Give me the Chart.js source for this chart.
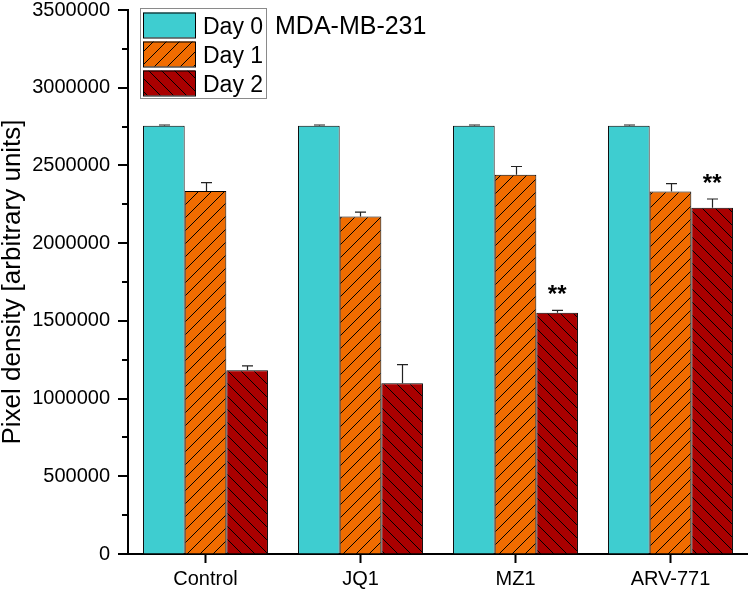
<!DOCTYPE html>
<html>
<head>
<meta charset="utf-8">
<script src="https://cdn.jsdelivr.net/npm/chart.js@4.4.1/dist/chart.umd.min.js"></script>
<style>
  html, body { margin: 0; padding: 0; background: #fff; }
  #wrap { width: 748px; height: 589px; }
</style>
</head>
<body>
<div id="wrap"><canvas id="chart" width="748" height="589"></canvas></div>
<script>
const categories = ["Control", "JQ1", "MZ1", "ARV-771"];
const seriesNames = ["Day 0", "Day 1", "Day 2"];

const day0 = [2755000, 2755000, 2755000, 2755000];
const day0Err = [5000, 5000, 5000, 5000];
const day1 = [2335000, 2172000, 2440000, 2333000];
const day1Err = [55000, 27000, 53000, 50000];
const day2 = [1182000, 1098000, 1552000, 2228000];
const day2Err = [28000, 120000, 15000, 56000];
const day2Stars = ["", "", "**", "**"];

const yMax = 3500000;
const yMajorStep = 500000;
const yMinorStep = 250000;

const FONT = "'Liberation Sans', Arial, sans-serif";
const cyan = "#3ECDD0";
const orange = "#F06C00";
const darkRed = "#AA0000";

// hatch patterns: dir 1 = "/", dir -1 = "\"
function makeHatch(bg, dir) {
    const s = 13;
    const c = document.createElement("canvas");
    c.width = s; c.height = s;
    const g = c.getContext("2d");
    g.fillStyle = bg;
    g.fillRect(0, 0, s, s);
    g.strokeStyle = "#000";
    g.lineWidth = 1;
    g.beginPath();
    if (dir > 0) {
        g.moveTo(-1, s + 1); g.lineTo(s + 1, -1);
        g.moveTo(-1, 1); g.lineTo(1, -1);
        g.moveTo(s - 1, s + 1); g.lineTo(s + 1, s - 1);
    } else {
        g.moveTo(-1, -1); g.lineTo(s + 1, s + 1);
        g.moveTo(s - 1, -1); g.lineTo(s + 1, 1);
        g.moveTo(-1, s - 1); g.lineTo(1, s + 1);
    }
    g.stroke();
    return g.createPattern(c, "repeat");
}

const fills = [cyan, makeHatch(orange, 1), makeHatch(darkRed, -1)];
const errs = [day0Err, day1Err, day2Err];
const stars = [null, null, day2Stars];

const errorBars = {
    id: "errorBars",
    afterDatasetsDraw(chart) {
        const ctx = chart.ctx;
        const y = chart.scales.y;
        ctx.save();
        ctx.strokeStyle = "#222";
        ctx.lineWidth = 1.2;
        chart.data.datasets.forEach((ds, i) => {
            const meta = chart.getDatasetMeta(i);
            meta.data.forEach((bar, j) => {
                const top = y.getPixelForValue(ds.data[j]);
                const hi = y.getPixelForValue(ds.data[j] + errs[i][j]);
                const x = Math.round(bar.x) + 0.5;
                ctx.beginPath();
                ctx.moveTo(x, top);
                ctx.lineTo(x, hi);
                ctx.moveTo(x - 5.5, hi);
                ctx.lineTo(x + 5.5, hi);
                ctx.stroke();
                if (stars[i] && stars[i][j]) {
                    ctx.fillStyle = "#000";
                    ctx.font = "bold 24px " + FONT;
                    ctx.textAlign = "center";
                    ctx.textBaseline = "alphabetic";
                    ctx.fillText(stars[i][j], bar.x, hi - 8);
                }
            });
        });
        ctx.restore();
    }
};

const axisDecor = {
    id: "axisDecor",
    afterDraw(chart) {
        const ctx = chart.ctx;
        const y = chart.scales.y;
        const left = chart.chartArea.left;
        ctx.save();
        ctx.strokeStyle = "#000";
        ctx.lineWidth = 2;
        y.ticks.forEach(t => {
            const py = Math.round(y.getPixelForValue(t.value));
            const len = t.value % yMajorStep === 0 ? 10 : 6;
            ctx.beginPath();
            ctx.moveTo(left - len, py);
            ctx.lineTo(left, py);
            ctx.stroke();
        });

        // legend box
        ctx.lineWidth = 1;
        ctx.strokeStyle = "#8a8a8a";
        ctx.strokeRect(140.5, 8.5, 126, 90);
        seriesNames.forEach((name, i) => {
            const sy = 12.5 + i * 29;
            ctx.fillStyle = fills[i];
            ctx.fillRect(143, sy, 52, 25);
            ctx.strokeStyle = "#000";
            ctx.strokeRect(143.5, sy + 0.5, 52, 25);
            ctx.fillStyle = "#000";
            ctx.font = "23px " + FONT;
            ctx.textAlign = "left";
            ctx.textBaseline = "alphabetic";
            ctx.fillText(name, 203, sy + 21);
        });
        ctx.font = "25px " + FONT;
        ctx.fillText("MDA-MB-231", 275, 34);
        ctx.restore();
    }
};

new Chart(document.getElementById("chart"), {
    type: "bar",
    data: {
        labels: categories,
        datasets: seriesNames.map((name, i) => ({
            label: name,
            data: [day0, day1, day2][i],
            backgroundColor: fills[i],
            borderColor: "#000",
            borderWidth: 1,
            categoryPercentage: 0.806,
            barPercentage: 1.0
        }))
    },
    options: {
        responsive: false,
        animation: false,
        layout: { padding: { left: 0, right: 0, top: 10, bottom: 0 } },
        plugins: {
            legend: { display: false },
            tooltip: { enabled: false }
        },
        scales: {
            x: {
                grid: {
                    display: true,
                    drawOnChartArea: false,
                    offset: false,
                    tickLength: 9,
                    tickWidth: 2,
                    tickColor: "#000"
                },
                border: { color: "#000", width: 2 },
                ticks: {
                    color: "#000",
                    padding: 4,
                    font: { family: FONT, size: 20 }
                },
                afterFit(scale) {
                    scale.height = 35;
                    scale.paddingLeft = 0;
                    scale.paddingRight = 0;
                }
            },
            y: {
                min: 0,
                max: yMax,
                grid: {
                    display: true,
                    drawOnChartArea: false,
                    tickLength: 10,
                    tickColor: "transparent"
                },
                border: { color: "#000", width: 2 },
                ticks: {
                    stepSize: yMinorStep,
                    autoSkip: false,
                    color: "#000",
                    padding: 8,
                    font: { family: FONT, size: 20 },
                    callback: v => (v % yMajorStep === 0 ? String(v) : "")
                },
                title: {
                    display: true,
                    text: "Pixel density [arbitrary units]",
                    color: "#000",
                    padding: { top: 0, bottom: 0 },
                    font: { family: FONT, size: 26, lineHeight: 1 }
                },
                afterFit(scale) {
                    scale.width = 128;
                    scale.paddingTop = 0;
                    scale.paddingBottom = 0;
                }
            }
        }
    },
    plugins: [errorBars, axisDecor]
});
</script>
</body>
</html>
